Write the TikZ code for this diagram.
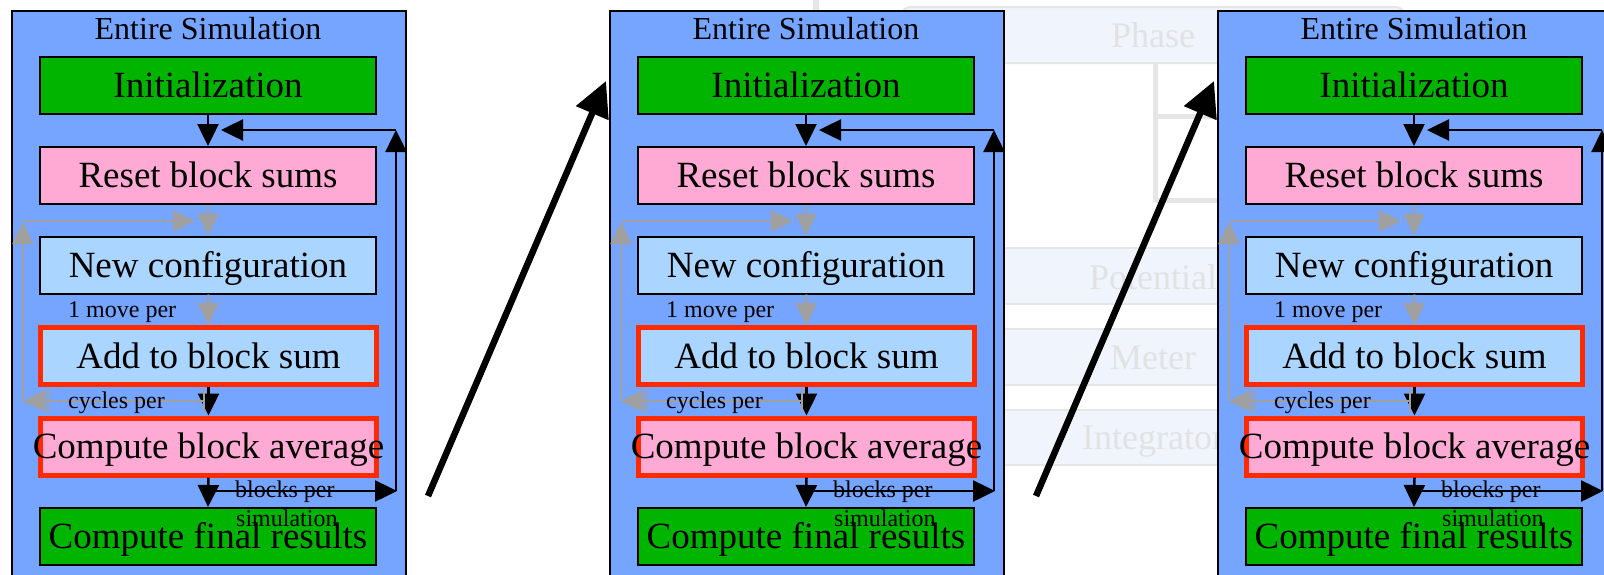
\documentclass[tikz,border=0pt]{standalone}
\usepackage{fontspec}
\setmainfont{Liberation Serif}
\usetikzlibrary{arrows.meta}

\definecolor{panelblue}{RGB}{117,165,255}
\definecolor{initgreen}{RGB}{0,180,0}
\definecolor{resetpink}{RGB}{255,170,213}
\definecolor{confblue}{RGB}{170,213,255}
\definecolor{hotred}{RGB}{255,42,0}
\definecolor{edgegray}{RGB}{160,160,160}
\definecolor{ghostfill}{RGB}{239,244,253}
\definecolor{ghostline}{RGB}{230,230,230}
\definecolor{ghosttext}{RGB}{226,226,226}

\tikzset{
  panelbox/.style={draw=black, fill=panelblue, line width=2.5pt,
    minimum width=394pt, minimum height=589pt, inner sep=0pt},
  paneltitle/.style={anchor=base, inner sep=0pt, font=\fontsize{32}{34}\selectfont},
  stage/.style={draw=black, line width=2pt, minimum width=336pt,
    minimum height=57pt, inner sep=0pt},
  hotstage/.style={draw=hotred, line width=5pt, minimum width=336pt,
    minimum height=57pt, inner sep=0pt},
  stagetext/.style={inner sep=0pt, text height=24.5pt, text depth=0pt,
    font=\fontsize{37}{40}\selectfont},
  note/.style={anchor=base west, inner sep=0pt, font=\fontsize{24}{26}\selectfont},
  blk/.style={draw=black, line width=2.5pt, -{Triangle[length=22pt,width=21pt]}},
  gry/.style={draw=edgegray, line width=2.5pt, -{Triangle[length=22pt,width=21pt]}},
  grytick/.style={draw=edgegray, line width=2.5pt},
  bigarrow/.style={draw=black, line width=6.5pt, -{Triangle[length=35pt,width=34pt]}},
  ghostrow/.style={draw=ghostline, fill=ghostfill, line width=2pt},
  ghosttxt/.style={inner sep=0pt, text height=24pt, text depth=0pt,
    text=ghosttext, font=\fontsize{36}{38}\selectfont},
  ghostrule/.style={draw=ghostline, line width=5pt},
}

\begin{document}
\begin{tikzpicture}[x=1pt, y=-1pt]
\useasboundingbox (0,0) rectangle (1604,574);
\clip (0,0) rectangle (1604,574);

% faded phase table lying behind the panels
\fill[ghostline] (813,0) rectangle (819,11);
\draw[ghostrow, rounded corners=8pt] (902,7) rectangle (1404,63);
\node[ghosttxt] (phaseT) at (1153,35) {Phase};
\draw[ghostrule] (1155,63) -- (1155,202);
\draw[ghostrule] (1155,116) -- (1404,116);
\draw[ghostrule] (1155,200) -- (1404,200);
\draw[ghostrow] (902,248) rectangle (1404,304);
\node[ghosttxt] (potT) at (1153,277) {Potential};
\draw[ghostrow] (902,329) rectangle (1404,385);
\node[ghosttxt] (metT) at (1153,357) {Meter};
\draw[ghostrow] (902,410) rectangle (1404,465);
\node[ghosttxt] (intT) at (1153,437) {Integrator};

% three copies of the block-averaging flow
\foreach \p/\dx in {a/0,b/598,c/1206}{
\begin{scope}[xshift=\dx pt]
  \node[panelbox] (panel\p) at (209,305.5) {};
  \node[paneltitle] (title\p) at (208,39) {Entire Simulation};

  \node[stage, fill=initgreen] (init\p) at (208,85.5) {};
  \node[stage, fill=resetpink] (reset\p) at (208,175.5) {};
  \node[stage, fill=confblue] (conf\p) at (208,265) {};
  \node[hotstage, fill=confblue] (add\p) at (208.5,356) {};
  \node[hotstage, fill=resetpink] (avg\p) at (208.5,446.5) {};
  \node[stage, fill=initgreen] (final\p) at (208,536.5) {};

  % black flow
  \draw[blk] (init\p.south) -- (reset\p.north);
  \draw[blk] (add\p.south) -- (avg\p.north);
  \draw[blk] (avg\p.south) -- (final\p.north);
  \coordinate (bj\p) at (208,491);
  \coordinate (br\p) at (397,491);
  \coordinate (bv\p) at (396,491);
  \coordinate (bt\p) at (396,130);
  \coordinate (bl\p) at (221,130);
  \draw[blk] (bj\p) -- (br\p);
  \draw[blk] (bv\p) -- (bt\p);
  \draw[blk] (bt\p) -- (bl\p);

  % grey inner loop
  \draw[gry] (reset\p.south) -- (conf\p.north);
  \draw[gry] (conf\p.south) -- (add\p.north);
  \coordinate (gj\p) at (204,401);
  \coordinate (gl\p) at (23,401);
  \coordinate (gt\p) at (23,221);
  \coordinate (gr\p) at (195,221);
  \coordinate (gs\p) at (23,222);
  \draw[gry] (gj\p) -- (gl\p);
  \draw[gry] (gl\p) -- (gs\p);
  \draw[gry] (gt\p) -- (gr\p);
  \coordinate (ga\p) at (204,388);
  \coordinate (gb\p) at (204,413);
  \coordinate (gc\p) at (48,388);
  \coordinate (gd\p) at (48,413);
  \draw[grytick] (ga\p) -- (gb\p);
  \draw[grytick] (gc\p) -- (gd\p);

  % stage captions
  \node[stagetext] (initT\p) at (init\p) {Initialization};
  \node[stagetext] (resetT\p) at (reset\p) {Reset block sums};
  \node[stagetext] (confT\p) at (conf\p) {New configuration};
  \node[stagetext] (addT\p) at (add\p) {Add to block sum};
  \node[stagetext] (avgT\p) at (avg\p) {Compute block average};
  \node[stagetext] (finalT\p) at (final\p) {Compute final results};

  % loop counts
  \node[note] (mv\p) at (68,317) {1 move per};
  \node[note] (cy\p) at (68,408) {cycles per};
  \node[note] (bp\p) at (235,497) {blocks per};
  \node[note] (sm\p) at (236,526) {simulation};
\end{scope}
}

% zoom arrows between the copies
\coordinate (d1s) at (428,496);
\coordinate (d1e) at (606,81);
\coordinate (d2s) at (1036,496);
\coordinate (d2e) at (1214,81);
\draw[bigarrow] (d1s) -- (d1e);
\draw[bigarrow] (d2s) -- (d2e);
\end{tikzpicture}
\end{document}
